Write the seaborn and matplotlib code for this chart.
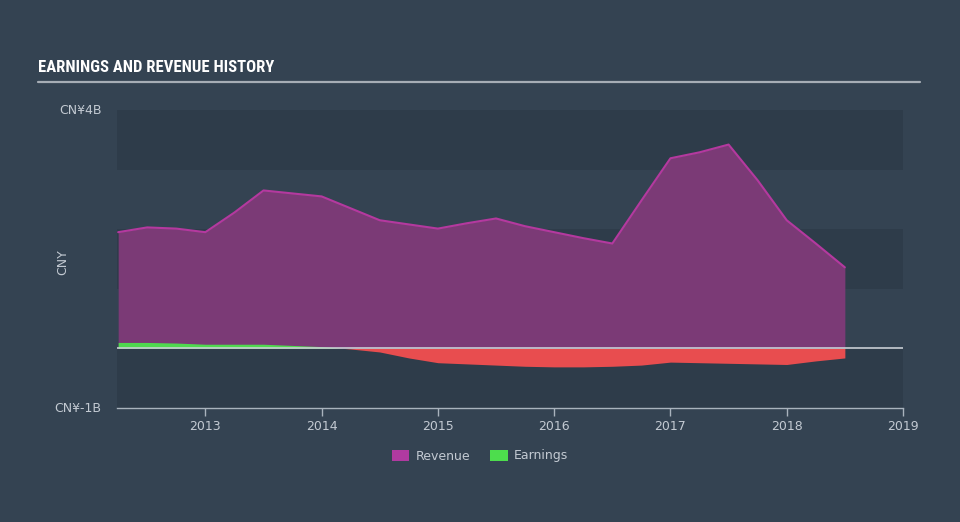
import numpy as np
import pandas as pd
import matplotlib
matplotlib.use("Agg")
import matplotlib.pyplot as plt
from matplotlib.patches import Patch
from matplotlib import font_manager
import seaborn as sns

# ---- data (CNY billions, quarterly) ----
quarters = [2012.25, 2012.5, 2012.75, 2013.0, 2013.25, 2013.5, 2013.75,
            2014.0, 2014.25, 2014.5, 2014.75, 2015.0, 2015.25, 2015.5,
            2015.75, 2016.0, 2016.25, 2016.5, 2016.75, 2017.0, 2017.25,
            2017.5, 2017.75, 2018.0, 2018.25, 2018.5]
revenue = [1.95, 2.03, 2.01, 1.95, 2.28, 2.65, 2.60, 2.55, 2.35, 2.15,
           2.08, 2.01, 2.10, 2.18, 2.05, 1.95, 1.85, 1.76, 2.48, 3.19,
           3.29, 3.42, 2.82, 2.15, 1.76, 1.36]
earnings = [0.10, 0.10, 0.09, 0.07, 0.07, 0.07, 0.05, 0.03, -0.01, -0.06,
            -0.16, -0.24, -0.26, -0.28, -0.30, -0.31, -0.31, -0.30, -0.28,
            -0.23, -0.24, -0.25, -0.26, -0.27, -0.21, -0.16]
year_ticks = [2013, 2014, 2015, 2016, 2017, 2018, 2019]
y_labels = {4: "CN¥4B", -1: "CN¥-1B"}
series_names = ["Revenue", "Earnings"]

df = pd.DataFrame({"t": quarters, "revenue": revenue, "earnings": earnings})

BG = "#344352"
BAND = "#2e3c4a"
REV_FILL = "#7b3a76"
REV_LINE = "#b4399f"
GREEN = "#4fd84f"
RED = "#e84d4f"
TXT = "#c3cad2"
AXC = "#a9b3bd"

sns.set_theme(style="dark")
plt.rcParams["font.family"] = ["DejaVu Sans"]

# pick a condensed font for the title if available
names = {f.name for f in font_manager.fontManager.ttflist}
title_family = ["DejaVu Sans"]
for cand in ["Liberation Sans Narrow", "DejaVu Sans Condensed", "Roboto Condensed"]:
    if cand in names:
        title_family = [cand, "DejaVu Sans"]
        break

fig = plt.figure(figsize=(9.6, 5.22), dpi=100)
fig.patch.set_facecolor(BG)
ax = fig.add_axes([117/960, 1-408/522, (903-117)/960, (408-110)/522])
ax.set_facecolor(BG)

# horizontal bands
for lo, hi in [(3, 4), (1, 2), (-1, 0)]:
    ax.axhspan(lo, hi, color=BAND, zorder=0, lw=0)

# revenue area
ax.fill_between(df["t"], 0, df["revenue"], color=REV_FILL, lw=0, zorder=2)
sns.lineplot(data=df, x="t", y="revenue", color=REV_LINE, lw=1.5, ax=ax, zorder=3)

# earnings area
e = np.array(earnings)
ax.fill_between(df["t"], 0, e, where=e >= 0, interpolate=True, color=GREEN, lw=0, zorder=4)
ax.fill_between(df["t"], 0, e, where=e <= 0, interpolate=True, color=RED, lw=0, zorder=4)

# zero line
ax.axhline(0, color="#c8ced4", lw=1.2, zorder=5)

ax.set_xlim(2012.24, 2019.0)
ax.set_ylim(-1, 4)
ax.set_xlabel("")
ax.set_ylabel("")
ax.set_xticks(year_ticks)
ax.set_xticklabels([str(y) for y in year_ticks], color=TXT, fontsize=9)
ax.tick_params(axis="x", length=6, width=1, color=AXC, direction="out", pad=3, bottom=True)
ax.set_yticks([])
for s in ["top", "left", "right"]:
    ax.spines[s].set_visible(False)
ax.spines["bottom"].set_color(AXC)
ax.spines["bottom"].set_linewidth(1)
ax.grid(False)

# y labels
for v, lab in y_labels.items():
    ax.text(-0.02, (v + 1) / 5, lab, transform=ax.transAxes, ha="right", va="center",
            color=TXT, fontsize=9)
fig.text(63/960, 1-262/522, "CNY", rotation=90, ha="center", va="center", color=TXT, fontsize=9)

# title and rule
fig.text(38/960, 1-68/522, "EARNINGS AND REVENUE HISTORY",
         family=title_family, fontweight="bold", fontstretch="condensed",
         color="white", fontsize=12, ha="left", va="center")
fig.add_artist(plt.Line2D([38/960, 920/960], [1-81.5/522, 1-81.5/522],
                          color="#a6adb5", lw=1.6, transform=fig.transFigure))

# legend
handles = [Patch(facecolor="#b03aa0", edgecolor="none", label=series_names[0]),
           Patch(facecolor="#4ddd4d", edgecolor="none", label=series_names[1])]
leg = fig.legend(handles=handles, loc="center", bbox_to_anchor=(0.5, 1-456/522), ncol=2,
                 frameon=False, fontsize=9, handlelength=1.4, handleheight=1.0,
                 columnspacing=1.6, handletextpad=0.5)
for t in leg.get_texts():
    t.set_color(TXT)

fig.savefig("out.png", dpi=100, facecolor=BG)
